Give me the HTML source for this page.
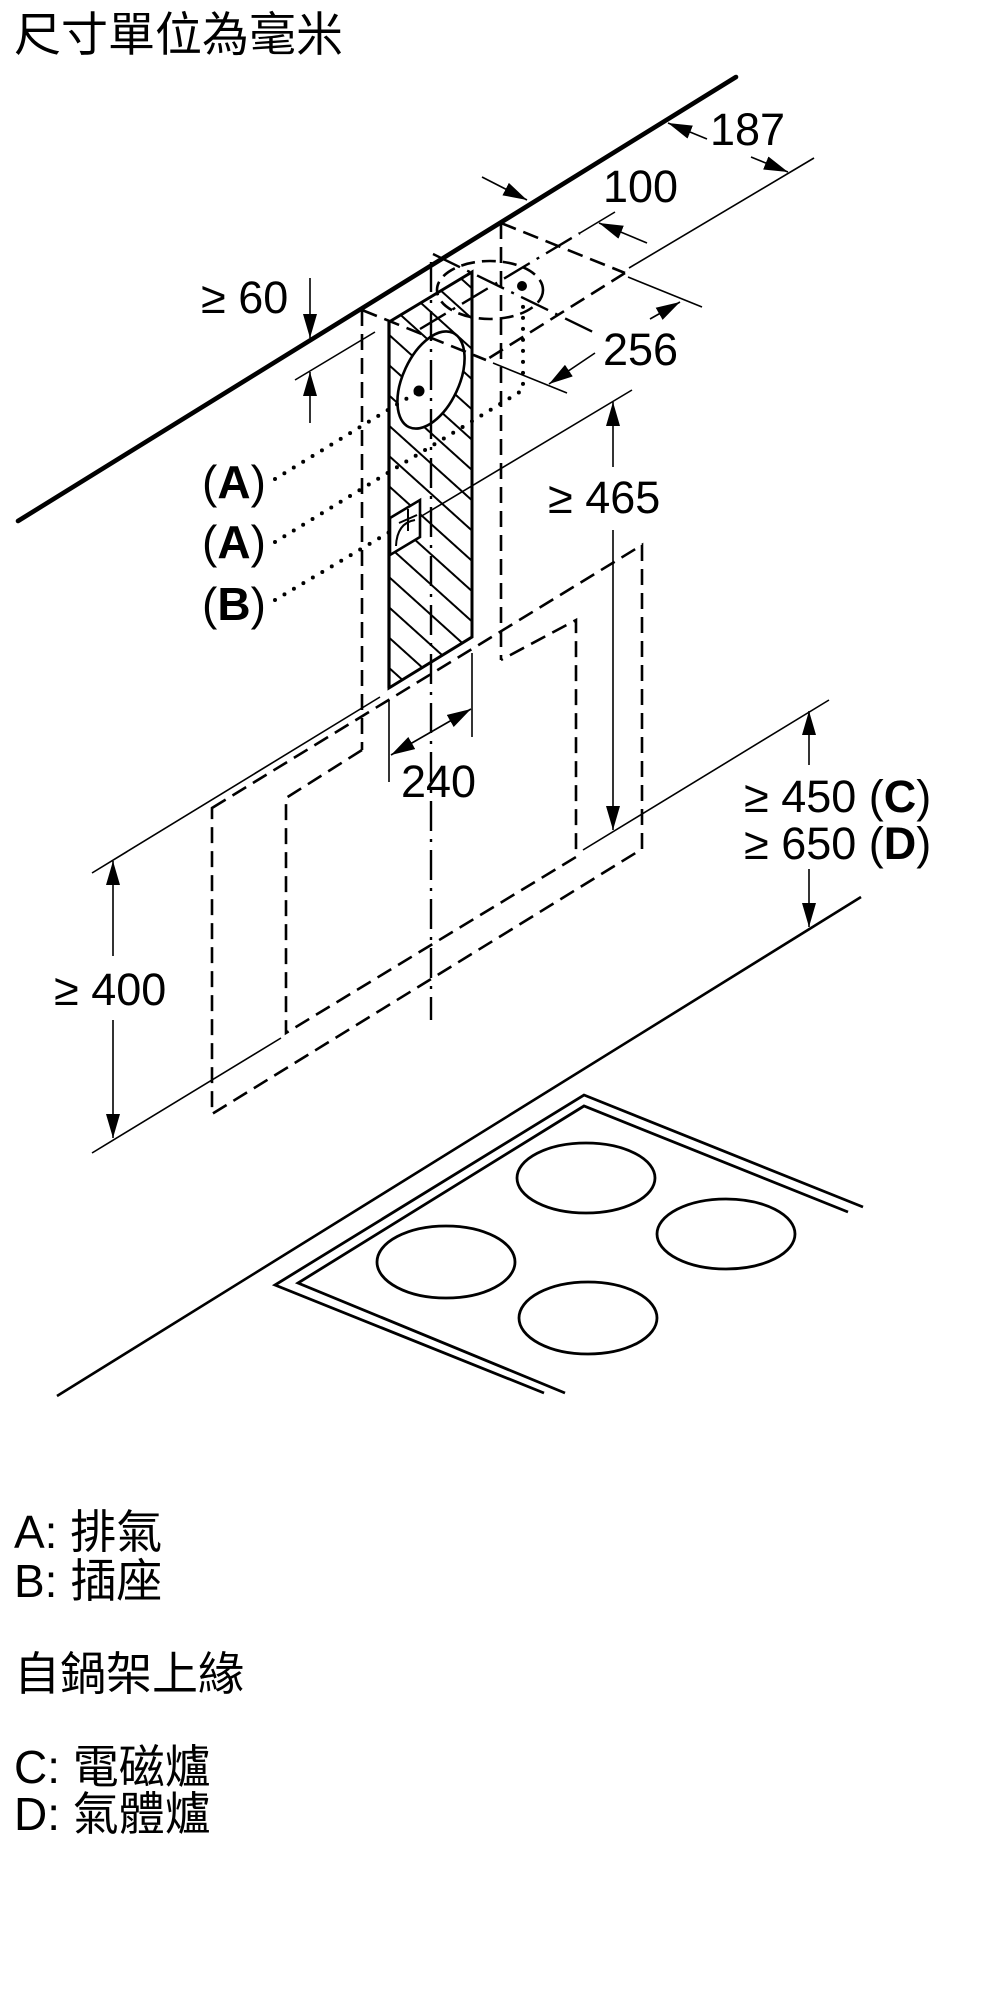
<!DOCTYPE html>
<html><head><meta charset="utf-8">
<style>
html,body{margin:0;padding:0;background:#fff;}
svg{display:block;}
.t{font-family:"Liberation Sans","Noto Sans CJK TC",sans-serif;fill:#000;}
.cjk{font-family:"Liberation Sans","Noto Sans CJK TC",sans-serif;fill:#000;}
.d{fill:none;stroke:#000;stroke-width:2.6;stroke-dasharray:16 8;}
.dd{fill:none;stroke:#000;stroke-width:2.4;stroke-dasharray:30 8 3 8;}
.th{fill:none;stroke:#000;stroke-width:1.6;}
.ar{fill:none;stroke:#000;stroke-width:1.6;marker-end:url(#ah);}
.dot{fill:none;stroke:#000;stroke-width:4;stroke-dasharray:0 11;stroke-linecap:round;}
.s{fill:none;stroke:#000;stroke-width:2.8;}
</style></head><body>
<svg width="1000" height="2000" viewBox="0 0 1000 2000" xmlns="http://www.w3.org/2000/svg">
<defs>
<marker id="ah" markerUnits="userSpaceOnUse" markerWidth="24" markerHeight="14" refX="24" refY="7" orient="auto" viewBox="0 0 24 14"><path d="M0,0 L24,7 L0,14 z" fill="#000"/></marker>
<pattern id="hp" patternUnits="userSpaceOnUse" width="20" height="22.5" patternTransform="rotate(42)"><line x1="-2" y1="11" x2="22" y2="11" stroke="#000" stroke-width="2"/></pattern>
</defs>

<!-- title -->
<text class="cjk" x="14" y="51" font-size="47">尺寸單位為毫米</text>

<!-- hatch area on wall -->
<polygon points="389,322 472,272 472,637 389,688" fill="#fff"/>
<polygon points="389,322 472,272 472,637 389,688" fill="url(#hp)" stroke="#000" stroke-width="3"/>
<!-- ellipse (exhaust on wall) -->
<ellipse cx="431" cy="380" rx="28" ry="52" transform="rotate(25 431 380)" fill="#fff" stroke="#000" stroke-width="2.6"/>
<circle cx="419" cy="391" r="5.5" fill="#000"/>
<!-- socket box -->
<polygon points="390,518 420,500 420,537 390,555" fill="#fff" stroke="#000" stroke-width="2.6"/>
<path d="M396,546 Q397,523 415,520" fill="none" stroke="#000" stroke-width="2"/>
<line x1="408" y1="509" x2="408" y2="531" stroke="#000" stroke-width="2"/>
<line x1="399" y1="523" x2="417" y2="515" stroke="#000" stroke-width="2"/>
<line x1="389" y1="322" x2="389" y2="688" stroke="#000" stroke-width="3.2"/>

<!-- chimney dashed -->
<line class="d" x1="362" y1="310" x2="362" y2="750"/>
<line class="d" x1="501" y1="223" x2="501" y2="660"/>
<line class="d" x1="362" y1="310" x2="486" y2="360"/>
<line class="d" x1="501" y1="223" x2="625" y2="273"/>
<line class="d" x1="625" y1="273" x2="486" y2="360"/>
<ellipse class="d" cx="490" cy="290" rx="53" ry="29" style="stroke-dasharray:14 7"/>
<circle cx="522" cy="286" r="5" fill="#000"/>

<!-- canopy dashed -->
<polygon class="d" points="212,808 642,545 642,849 212,1114"/>
<polyline class="d" points="362,750 286,798 286,1033 576,857 576,620 501,660"/>

<!-- dash-dot axes -->
<line class="dd" x1="431" y1="262" x2="431" y2="1020"/>
<line class="dd" x1="433" y1="254" x2="593" y2="332"/>
<line class="dd" x1="420" y1="329" x2="580" y2="233"/>

<!-- leaders -->
<line class="dot" x1="275" y1="479" x2="419" y2="391"/>
<polyline class="dot" points="275,542 523,390 523,297"/>
<line class="dot" x1="275" y1="600" x2="393" y2="530"/>

<!-- wall/ceiling thick line -->
<line x1="18" y1="521" x2="736" y2="77" stroke="#000" stroke-width="4.6" stroke-linecap="round"/>

<!-- extension lines -->
<line class="th" x1="629" y1="268" x2="814" y2="158"/>
<line class="th" x1="580" y1="233" x2="615" y2="212"/>
<line class="th" x1="628" y1="277" x2="702" y2="307"/>
<line class="th" x1="493" y1="363" x2="567" y2="393"/>
<line class="th" x1="295" y1="380" x2="375" y2="332"/>
<line class="th" x1="420" y1="517" x2="632" y2="390"/>
<line class="th" x1="583" y1="850" x2="829" y2="700"/>
<line class="th" x1="92" y1="873" x2="380" y2="697"/>
<line class="th" x1="92" y1="1153" x2="281" y2="1038"/>
<line class="th" x1="389" y1="700" x2="389" y2="782"/>
<line class="th" x1="472" y1="653" x2="472" y2="737"/>

<!-- arrows -->
<line class="ar" x1="707" y1="139" x2="668" y2="123"/>
<line class="ar" x1="751" y1="157" x2="788" y2="172"/>
<line class="ar" x1="647" y1="243" x2="599" y2="223"/>
<line class="ar" x1="482" y1="177" x2="527" y2="200"/>
<line class="ar" x1="650" y1="319" x2="680" y2="302"/>
<line class="ar" x1="595" y1="353" x2="549" y2="384"/>
<line class="ar" x1="310" y1="278" x2="310" y2="338"/>
<line class="ar" x1="310" y1="423" x2="310" y2="372"/>
<line class="ar" x1="613" y1="467" x2="613" y2="402"/>
<line class="ar" x1="613" y1="530" x2="613" y2="830"/>
<line class="ar" x1="809" y1="765" x2="809" y2="711"/>
<line class="ar" x1="809" y1="869" x2="809" y2="927"/>
<line class="ar" x1="113" y1="956" x2="113" y2="861"/>
<line class="ar" x1="113" y1="1020" x2="113" y2="1138"/>
<line class="ar" x1="431" y1="732" x2="391" y2="755"/>
<line class="ar" x1="431" y1="732" x2="471" y2="709"/>

<!-- counter line -->
<line x1="57" y1="1396" x2="861" y2="897" stroke="#000" stroke-width="2.6"/>

<!-- cooktop -->
<polyline class="s" points="544,1393 275,1285 584,1095 863,1207"/>
<polyline class="s" points="565,1393 298,1283 584,1106 848,1212"/>
<ellipse class="s" cx="586" cy="1178" rx="69" ry="35"/>
<ellipse class="s" cx="446" cy="1262" rx="69" ry="36"/>
<ellipse class="s" cx="726" cy="1234" rx="69" ry="35"/>
<ellipse class="s" cx="588" cy="1318" rx="69" ry="36"/>

<!-- dimension text -->
<text class="t" x="710" y="145" font-size="45">187</text>
<text class="t" x="603" y="202" font-size="45">100</text>
<text class="t" x="201" y="313" font-size="45">≥ 60</text>
<text class="t" x="603" y="365" font-size="45">256</text>
<text class="t" x="548" y="513" font-size="45">≥ 465</text>
<text class="t" x="401" y="797" font-size="45">240</text>
<text class="t" x="744" y="812" font-size="45">≥ 450 (<tspan font-weight="bold">C</tspan>)</text>
<text class="t" x="744" y="859" font-size="45">≥ 650 (<tspan font-weight="bold">D</tspan>)</text>
<text class="t" x="54" y="1005" font-size="45">≥ 400</text>
<text class="t" x="202" y="498" font-size="46">(<tspan font-weight="bold">A</tspan>)</text>
<text class="t" x="202" y="558" font-size="46">(<tspan font-weight="bold">A</tspan>)</text>
<text class="t" x="202" y="620" font-size="46">(<tspan font-weight="bold">B</tspan>)</text>

<!-- legend -->
<text class="cjk" x="14" y="1548" font-size="46">A: 排氣</text>
<text class="cjk" x="14" y="1597" font-size="46">B: 插座</text>
<text class="cjk" x="14" y="1690" font-size="46">自鍋架上緣</text>
<text class="cjk" x="14" y="1783" font-size="46">C: 電磁爐</text>
<text class="cjk" x="14" y="1830" font-size="46">D: 氣體爐</text>
</svg>
</body></html>
